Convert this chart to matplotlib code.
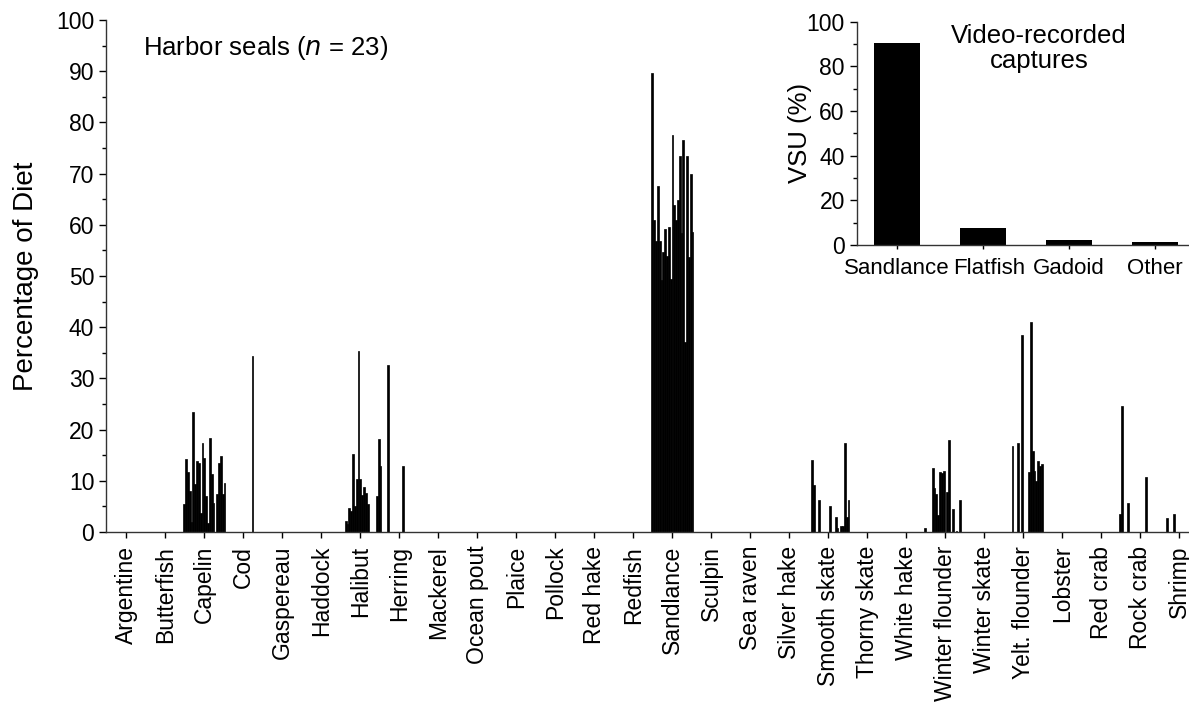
import matplotlib.pyplot as plt
import matplotlib.transforms as mtransforms
import numpy as np

plt.rcParams["font.family"] = ["Liberation Sans", "DejaVu Sans"]

# prey species on the main x axis
species = ["Argentine", "Butterfish", "Capelin", "Cod", "Gaspereau", "Haddock",
           "Halibut", "Herring", "Mackerel", "Ocean pout", "Plaice", "Pollock",
           "Red hake", "Redfish", "Sandlance", "Sculpin", "Sea raven", "Silver hake",
           "Smooth skate", "Thorny skate", "White hake", "Winter flounder",
           "Winter skate", "Yelt. flounder", "Lobster", "Red crab", "Rock crab", "Shrimp"]
n_seals = 23

# percentage of diet per seal (index 0..22), only non-zero prey listed
capelin = [5.4, 14.2, 11.8, 8.0, 2.0, 23.5, 9.3, 13.9, 13.5, 3.8, 17.3, 14.5,
           7.0, 1.8, 18.3, 11.4, 5.7, 0.0, 7.5, 13.5, 14.8, 7.5, 9.6]
cod = {16: 34.3}
halibut = {3: 2.1, 4: 1.6, 5: 4.6, 6: 4.0, 7: 15.3, 8: 5.0, 9: 10.4, 10: 35.4,
           11: 10.4, 12: 7.2, 13: 8.8, 14: 7.7, 15: 5.5, 20: 7.0, 21: 18.1, 22: 12.9}
herring = {5: 32.7, 13: 12.9}
sandlance = [89.7, 60.9, 56.8, 67.5, 56.8, 49.2, 54.7, 59.2, 54.0, 59.6, 49.5, 77.6,
             63.8, 60.9, 64.8, 73.4, 58.3, 76.5, 37.1, 73.4, 53.7, 70.0, 58.6]
smooth_skate = {2: 14.1, 3: 9.2, 6: 6.2, 12: 5.1, 15: 2.9, 16: 0.7, 18: 1.1,
                19: 1.1, 20: 17.3, 21: 2.9, 22: 6.2}
winter_flounder = {0: 0.85, 4: 12.4, 5: 8.5, 6: 7.5, 7: 3.3, 8: 11.7, 9: 11.5,
                   10: 12.0, 12: 7.8, 13: 17.9, 15: 4.4, 17: 0.2, 19: 6.2}
yelt_flounder = {5: 16.7, 8: 17.3, 10: 38.4, 14: 11.7, 15: 41.1, 16: 15.9, 17: 12.0,
                 18: 10.0, 19: 13.8, 20: 12.8, 21: 13.3}
rock_crab = {0: 3.45, 1: 24.7, 4: 5.6, 14: 10.8}
shrimp = {4: 2.8, 8: 3.45}

# inset: video-recorded captures
vsu_cats = ["Sandlance", "Flatfish", "Gadoid", "Other"]
vsu_vals = [90.6, 7.8, 2.2, 1.3]

diet = np.zeros((len(species), n_seals))
diet[species.index("Capelin")] = capelin
diet[species.index("Sandlance")] = sandlance
for name, d in [("Cod", cod), ("Halibut", halibut), ("Herring", herring),
                ("Smooth skate", smooth_skate), ("Winter flounder", winter_flounder),
                ("Yelt. flounder", yelt_flounder), ("Rock crab", rock_crab),
                ("Shrimp", shrimp)]:
    for j, v in d.items():
        diet[species.index(name), j] = v

fig = plt.figure(figsize=(11.89, 7.15), dpi=100)
ax = fig.add_axes([0.0892, 0.256, 0.911, 0.716])

bw = 0.0469
x = np.arange(len(species))
for j in range(n_seals):
    ax.bar(x + (j - 11) * bw, diet[:, j], width=bw, color="black",
           edgecolor="black", linewidth=0.5)

ax.set_xlim(-0.52, 27.25)
ax.set_ylim(0, 100)
ax.set_yticks(np.arange(0, 101, 10))
ax.set_yticks(np.arange(5, 100, 10), minor=True)
ax.set_xticks(x)
ax.set_xticklabels(species, rotation=90, fontsize=16.5)
ax.tick_params(axis="y", labelsize=16.5, length=5, width=1)
ax.tick_params(axis="y", which="minor", length=3, width=1)
ax.tick_params(axis="x", length=4, width=1, pad=6)
for s in ["top", "right"]:
    ax.spines[s].set_visible(False)
for s in ["left", "bottom"]:
    ax.spines[s].set_linewidth(1)
    ax.spines[s].set_color("#333333")
ax.set_ylabel("Percentage of Diet", fontsize=20, labelpad=12)
ax.text(0.034, 0.945, "Harbor seals ($\\it{n}$ = 23)", transform=ax.transAxes,
        fontsize=18.5, va="center", ha="left")

# inset
ins = fig.add_axes([0.7205, 0.6573, 0.2786, 0.3123])
ins.bar(np.arange(len(vsu_cats)), vsu_vals, width=0.54, color="black", linewidth=0)
ins.set_xlim(-0.47, 3.38)
ins.set_ylim(0, 100)
ins.set_yticks(np.arange(0, 101, 20))
ins.set_yticks(np.arange(10, 100, 20), minor=True)
ins.set_xticks(np.arange(len(vsu_cats)))
ins.set_xticklabels(vsu_cats, fontsize=16)
ins.tick_params(axis="y", labelsize=16.5, length=5, width=1)
ins.tick_params(axis="y", which="minor", length=3, width=1)
ins.tick_params(axis="x", length=3, width=1, pad=6)
# nudge the Flatfish label right so it clears Sandlance
shift = mtransforms.ScaledTranslation(0.06, 0, fig.dpi_scale_trans)
for lab in ins.get_xticklabels():
    if lab.get_text() == "Flatfish":
        lab.set_transform(lab.get_transform() + shift)
for s in ["top", "right"]:
    ins.spines[s].set_visible(False)
for s in ["left", "bottom"]:
    ins.spines[s].set_linewidth(1)
    ins.spines[s].set_color("#333333")
ins.set_ylabel("VSU (%)", fontsize=18.5, labelpad=-4)
ins.text(0.55, 0.99, "Video-recorded\ncaptures", transform=ins.transAxes,
         fontsize=18.5, ha="center", va="top", linespacing=1.05)

fig.savefig("out.png", dpi=100)
